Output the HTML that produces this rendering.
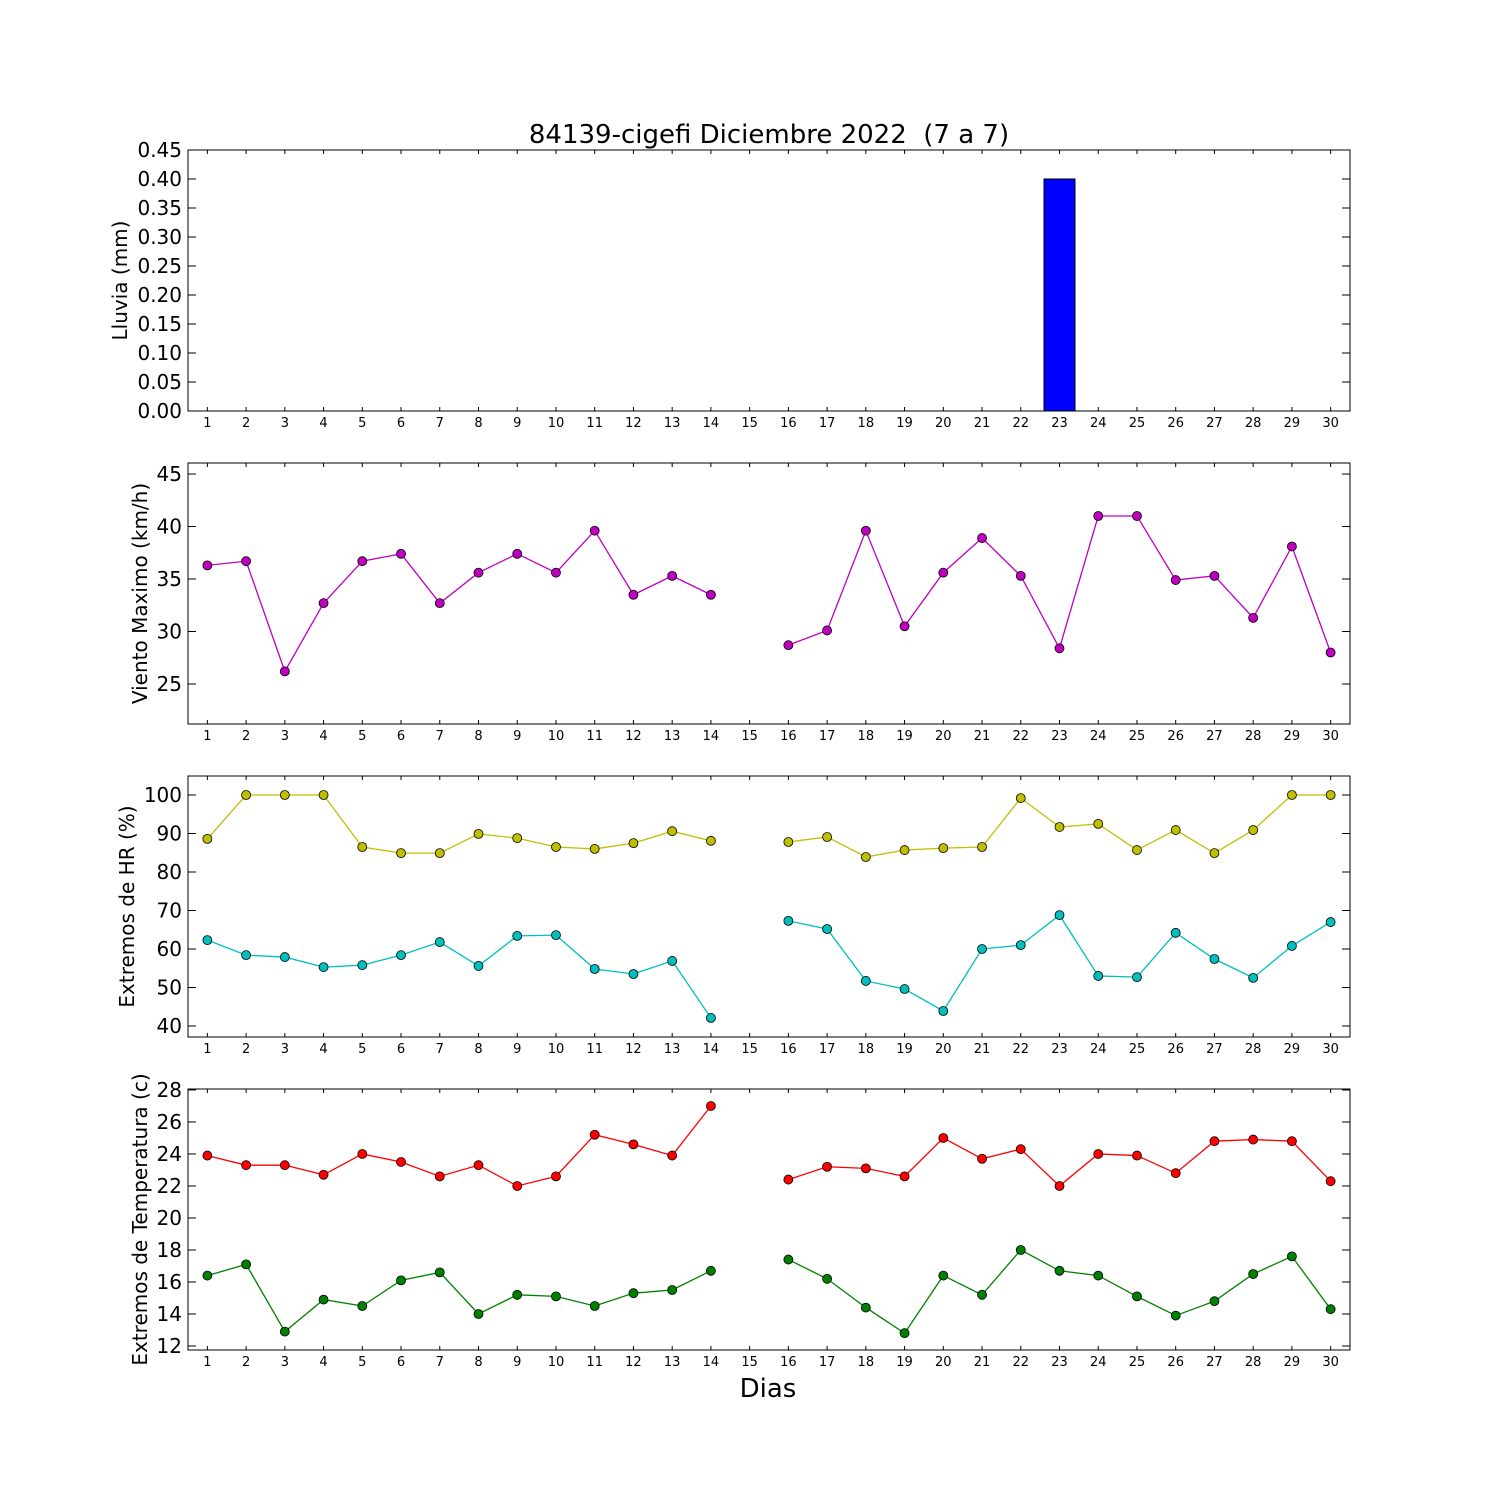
<!DOCTYPE html>
<html><head><meta charset="utf-8"><style>
html,body{margin:0;padding:0;background:#fff;}
svg{display:block;font-family:"DejaVu Sans","Liberation Sans",sans-serif;}
</style></head><body>
<svg id="chart" width="1500" height="1500" viewBox="0 0 1500 1500" xmlns="http://www.w3.org/2000/svg">
<rect width="1500" height="1500" fill="#fff"/>
<text x="769" y="143" font-size="26" text-anchor="middle" style="white-space:pre" xml:space="preserve">84139-cigefi Diciembre 2022  (7 a 7)</text>
<text x="768" y="1397" font-size="26" text-anchor="middle">Dias</text>
</svg>
<script>
const days = [1,2,3,4,5,6,7,8,9,10,11,12,13,14,15,16,17,18,19,20,21,22,23,24,25,26,27,28,29,30];
const rain = [0,0,0,0,0,0,0,0,0,0,0,0,0,0,0,0,0,0,0,0,0,0,0.4,0,0,0,0,0,0,0];
const wind = [36.3,36.7,26.2,32.7,36.7,37.4,32.7,35.6,37.4,35.6,39.6,33.5,35.3,33.5,null,28.7,30.1,39.6,30.5,35.6,38.9,35.3,28.4,41.0,41.0,34.9,35.3,31.3,38.1,28.0];
const hrMax = [88.6,100,100,100,86.5,84.9,84.9,89.9,88.8,86.5,86.0,87.5,90.6,88.1,null,87.8,89.1,83.9,85.7,86.2,86.5,99.2,91.7,92.5,85.7,90.9,84.9,90.9,100,100];
const hrMin = [62.3,58.4,57.9,55.3,55.8,58.4,61.8,55.6,63.4,63.6,54.8,53.5,56.9,42.1,null,67.3,65.2,51.7,49.6,43.9,60.0,61.0,68.8,53.0,52.7,64.2,57.4,52.5,60.8,67.0];
const tMax = [23.9,23.3,23.3,22.7,24.0,23.5,22.6,23.3,22.0,22.6,25.2,24.6,23.9,27.0,null,22.4,23.2,23.1,22.6,25.0,23.7,24.3,22.0,24.0,23.9,22.8,24.8,24.9,24.8,22.3];
const tMin = [16.4,17.1,12.9,14.9,14.5,16.1,16.6,14.0,15.2,15.1,14.5,15.3,15.5,16.7,null,17.4,16.2,14.4,12.8,16.4,15.2,18.0,16.7,16.4,15.1,13.9,14.8,16.5,17.6,14.3];
const rainTicks = ["0.00","0.05","0.10","0.15","0.20","0.25","0.30","0.35","0.40","0.45"];
const windTicks = [25,30,35,40,45];
const hrTicks = [40,50,60,70,80,90,100];
const tTicks = [12,14,16,18,20,22,24,26,28];

const NS="http://www.w3.org/2000/svg";
const svg=document.getElementById('chart');
function mk(tag,attrs,parent){const e=document.createElementNS(NS,tag);for(const k in attrs)e.setAttribute(k,attrs[k]);(parent||svg).appendChild(e);return e;}
const L=188,R=1350,X0=0.5,X1=30.5;
function xs(d){return L+(d-X0)/(X1-X0)*(R-L);}

function panel(name,top,bot,y0,y1,ticks,ylabel,labelX){
  const g=mk('g',{});
  
  
  const ys=v=>bot-(v-y0)/(y1-y0)*(bot-top);
  days.forEach(d=>{
    const x=xs(d);
    const t1=mk('line',{x1:x,x2:x,y1:bot,y2:bot-4,stroke:'#000'},g);
    
    
    mk('line',{x1:x,x2:x,y1:top,y2:top+4,stroke:'#000'},g);
    const tl=mk('text',{x:x,y:bot+16,'font-size':13,'text-anchor':'middle'},g);
    tl.textContent=d;
    
    
  });
  ticks.forEach(t=>{
    const y=ys(parseFloat(t));
    mk('line',{x1:L,x2:L+8,y1:y,y2:y,stroke:'#000'},g);
    mk('line',{x1:R,x2:R-8,y1:y,y2:y,stroke:'#000'},g);
    const tl=mk('text',{x:L-6,y:y+7,'font-size':20,'text-anchor':'end'},g);
    tl.textContent=t;
    
    
  });
  const yl=mk('text',{x:labelX,y:(top+bot)/2,'font-size':20,'text-anchor':'middle',transform:`rotate(-90 ${labelX} ${(top+bot)/2})`},g);
  yl.textContent=ylabel;
  
  
  return {g,ys,top,bot};
}
function frame(p){
  const f=mk('rect',{x:L,y:p.top,width:R-L,height:p.bot-p.top,fill:'none',stroke:'#000','stroke-width':1},p.g);
  
  
}
function series(p,vals,color,name){
  let segs=[],cur=[];
  vals.forEach((v,i)=>{if(v===null){if(cur.length)segs.push(cur);cur=[];}else cur.push([xs(days[i]),p.ys(v)]);});
  if(cur.length)segs.push(cur);
  segs.forEach(s=>{
    const pl=mk('polyline',{points:s.map(q=>q.join(',')).join(' '),fill:'none',stroke:color,'stroke-width':1.3},p.g);
    
    
  });
  vals.forEach((v,i)=>{
    if(v===null)return;
    const c=mk('circle',{cx:xs(days[i]),cy:p.ys(v),r:4.5,fill:color,stroke:'#000','stroke-width':0.8},p.g);
    
    
  });
}

const p1=panel('rain',150,411,0,0.45,rainTicks,'Lluvia (mm)',127);
const bw=(xs(1.8)-xs(1));
rain.forEach((v,i)=>{
  const x=xs(days[i])-bw/2;
  const r=mk('rect',{x:x,y:p1.ys(v),width:bw,height:p1.bot-p1.ys(v),fill:'#0000ff',stroke:'#000','stroke-width':1},p1.g);
  
  
});
frame(p1);

const p2=panel('wind',463,724,21.19,46.05,windTicks,'Viento Maximo (km/h)',147);
series(p2,wind,'#bf00bf','wind');
frame(p2);

const p3=panel('humidity',776,1037,37.14,104.94,hrTicks,'Extremos de HR (%)',134);
series(p3,hrMax,'#bfbf00','hr-max');
series(p3,hrMin,'#00bfbf','hr-min');
frame(p3);

const p4=panel('temperature',1089,1350,11.75,28.06,tTicks,'Extremos de Temperatura (c)',147);
series(p4,tMax,'#ff0000','temp-max');
series(p4,tMin,'#008000','temp-min');
frame(p4);
</script>
</body></html>
